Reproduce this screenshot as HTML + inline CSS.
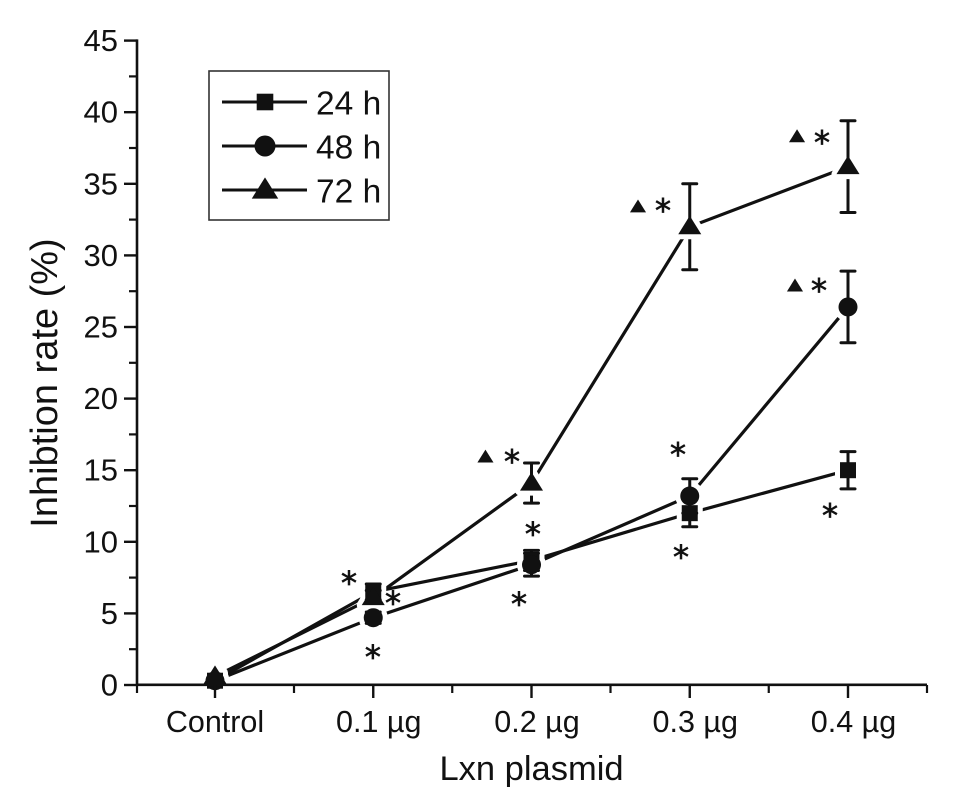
<!DOCTYPE html>
<html><head><meta charset="utf-8"><style>
html,body{margin:0;padding:0;background:#fff;width:969px;height:807px;overflow:hidden}
svg{display:block;font-family:"Liberation Sans",sans-serif;fill:#111}
</style></head><body>
<svg id="chart" width="969" height="807" viewBox="0 0 969 807" xmlns="http://www.w3.org/2000/svg"></svg>
<script>
const categories = ["Control", "0.1 µg", "0.2 µg", "0.3 µg", "0.4 µg"];
const yTicks = [0, 5, 10, 15, 20, 25, 30, 35, 40, 45];
const series24 = [0.3, 6.5, 8.7, 12.0, 15.0];
const err24 = [0, 0.55, 0.7, 0.95, 1.3];
const series48 = [0.3, 4.7, 8.4, 13.2, 26.4];
const err48 = [0, 0.4, 0.8, 1.2, 2.5];
const series72 = [0.6, 6.1, 14.1, 32.0, 36.2];
const err72 = [0, 0.5, 1.4, 3.0, 3.2];
const starX = [0.847, 1.125, 0.998, 1.877, 2.009, 1.921, 2.926, 2.945, 2.831, 3.836, 3.817, 3.886];
const starY = [7.48, 6.08, 2.31, 15.94, 10.91, 6.01, 16.43, 9.3, 33.5, 38.25, 27.9, 12.17];
const triangleX = [1.709, 2.673, 3.665, 3.678];
const triangleY = [15.9, 33.37, 27.85, 38.27];
const legendLabels = ["24 h", "48 h", "72 h"];
const NS = "http://www.w3.org/2000/svg";
const svg = document.getElementById("chart");
const x = i => 215 + i * 158.25;
const y = v => 685 - v * 14.32;
function make(tag, attrs, text) {
  const e = document.createElementNS(NS, tag);
  for (const k in attrs) e.setAttribute(k, attrs[k]);
  if (text !== undefined) e.textContent = text;
  svg.appendChild(e);
  return e;
}
const stroke = "#111";
let el;
function marker(kind, cx, cy, s, extra) {
  let m;
  if (kind === "square") m = make("rect", {x: cx - s, y: cy - s, width: 2 * s, height: 2 * s});
  else if (kind === "circle") m = make("circle", {cx, cy, r: s});
  else m = make("polygon", {points: `${cx},${cy - s * 1.1} ${cx + s * 1.15},${cy + s * 0.75} ${cx - s * 1.15},${cy + s * 0.75}`});
  if (extra) for (const k in extra) m.setAttribute(k, extra[k]);
  return m;
}
const seriesList = [
  {name: "series-24h", vals: series24, errs: err24, kind: "square", size: 8},
  {name: "series-48h", vals: series48, errs: err48, kind: "circle", size: 9.5},
  {name: "series-72h", vals: series72, errs: err72, kind: "triangle", size: 10}
];
seriesList.forEach(s => {
  el = make("polyline", {points: s.vals.map((v, i) => x(i) + "," + y(v)).join(" "), fill: "none", stroke, "stroke-width": 3.2});
  
  
});
function errPart(s, i, dir) {
  const v = s.vals[i], e = s.errs[i];
  if (e <= 0) return;
  const end = y(v + dir * e);
  el = make("path", {d: `M${x(i)} ${y(v)}V${end}M${x(i) - 7} ${end}H${x(i) + 7}`, fill: "none", stroke, "stroke-width": 3, "stroke-linecap": "round"});
  
  
}
seriesList.forEach(s => {
  if (s.kind === "triangle") s.vals.forEach((v, i) => errPart(s, i, -1));
});
seriesList.forEach(s => {
  s.vals.forEach((v, i) => {
    el = marker(s.kind, x(i), y(v), s.size, {fill: "#fff", stroke: "#fff", "stroke-width": 10, "stroke-linejoin": "round"});
    
    
  });
});
seriesList.forEach(s => {
  s.vals.forEach((v, i) => {
    errPart(s, i, 1);
    if (s.kind !== "triangle") errPart(s, i, -1);
  });
});
seriesList.forEach(s => {
  s.vals.forEach((v, i) => {
    el = marker(s.kind, x(i), y(v), s.size);
    
    
  });
});
el = make("line", {x1: 137, y1: y(45) - 1.2, x2: 137, y2: 686, stroke, "stroke-width": 2.6});


el = make("line", {x1: 136, y1: 684.8, x2: 927, y2: 684.8, stroke, "stroke-width": 2.6});


yTicks.forEach((t, i) => {
  el = make("line", {x1: 124, y1: y(t), x2: 137, y2: y(t), stroke, "stroke-width": 2.4});
  
  
  if (i < yTicks.length - 1) {
    el = make("line", {x1: 129, y1: y(t + 2.5), x2: 137, y2: y(t + 2.5), stroke, "stroke-width": 2.2});
    
    
  }
  el = make("text", {x: 118, y: y(t) + 10.5, "text-anchor": "end", "font-size": 31}, String(t));
  
  
});
categories.forEach((c, i) => {
  el = make("line", {x1: x(i), y1: 685, x2: x(i), y2: 698, stroke, "stroke-width": 2.4});
  
  
  el = make("line", {x1: x(i) + 79, y1: 685, x2: x(i) + 79, y2: 693, stroke, "stroke-width": 2.2});
  
  
  if (i === 0) {
    el = make("line", {x1: x(0) - 78, y1: 685, x2: x(0) - 78, y2: 693, stroke, "stroke-width": 2.2});
    
    
  }
  el = make("text", {x: x(i) + (i === 0 ? 0 : 5.5), y: 732, "text-anchor": "middle", "font-size": 30.5}, c);
  
  
});
el = make("text", {x: 531.5, y: 780, "text-anchor": "middle", "font-size": 34.5}, "Lxn plasmid");


el = make("text", {x: 57, y: 383, "text-anchor": "middle", "font-size": 38, transform: "rotate(-90 57 383)"}, "Inhibtion rate (%)");


starX.forEach((sx, i) => {
  el = make("text", {x: x(sx), y: y(starY[i]) + 16, "text-anchor": "middle", "font-size": 32, stroke, "stroke-width": 0.7, style: 'font-family:"DejaVu Sans",sans-serif'}, "*");
  
  
});
triangleX.forEach((tx, i) => {
  el = marker("triangle", x(tx), y(triangleY[i]), 7);
  
  
});
el = make("rect", {x: 209, y: 71, width: 180, height: 149, fill: "#fff", stroke: "#333", "stroke-width": 1.6});


const legendKinds = ["square", "circle", "triangle"];
const legendSizes = [8.3, 10.5, 11.5];
const legendRowY = [102, 146, 190];
legendLabels.forEach((label, i) => {
  const ry = legendRowY[i];
  el = make("line", {x1: 222, y1: ry, x2: 307, y2: ry, stroke, "stroke-width": 3});
  
  
  el = marker(legendKinds[i], 265, ry, legendSizes[i]);
  
  
  el = make("text", {x: 316, y: ry + 12.5, "font-size": 33.5}, label);
  
  
});
</script>
</body></html>
